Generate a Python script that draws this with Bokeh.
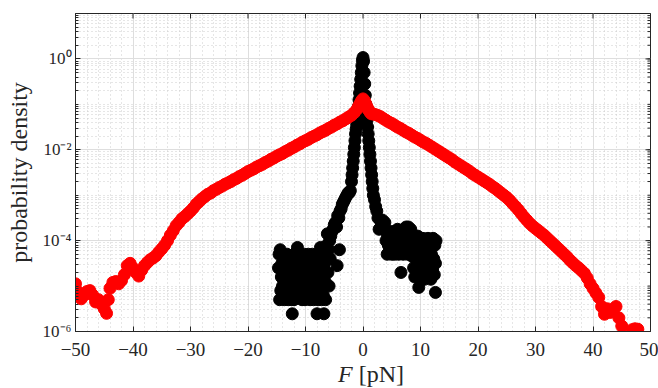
import math
from bokeh.plotting import figure
from bokeh.layouts import column
from bokeh.models import Range1d, FixedTicker, ColumnDataSource, Div
from bokeh.embed import file_html
from bokeh.resources import INLINE

# Narrow force distribution (black): force in pN and log10 of probability density
black_force = [
    -14.7, -14.6, -14.5, -14.4, -14.3, -14.2, -14.1, -14.0, -13.9, -13.8,
    -13.7, -13.6, -13.5, -13.4, -13.3, -13.2, -13.1, -13.0, -12.9, -12.8,
    -12.7, -12.6, -12.5, -12.4, -12.3, -12.2, -12.1, -12.0, -11.9, -11.8,
    -11.7, -11.6, -11.5, -11.4, -11.3, -11.2, -11.1, -11.0, -10.9, -10.8,
    -10.7, -10.6, -10.5, -10.4, -10.3, -10.2, -10.1, -10.0, -9.9, -9.8,
    -9.7, -9.6, -9.5, -9.4, -9.3, -9.2, -9.1, -9.0, -8.9, -8.8,
    -8.7, -8.6, -8.5, -8.4, -8.3, -8.2, -8.1, -8.0, -7.9, -7.8,
    -7.7, -7.6, -7.5, -7.4, -7.3, -7.2, -7.1, -7.0, -6.9, -6.8,
    -6.7, -6.6, -6.5, -6.4, -6.3, -6.2, -6.1, -6.0, -5.9, -5.8,
    -5.7, -5.6, -5.4, -5.2, -5.0, -4.8, -4.6, -4.5, -4.4, -4.2,
    -4.1, -4.0, -3.8, -3.6, -3.4, -3.2, -3.0, -2.8, -2.6, -2.4,
    -2.2, -2.0, -1.9, -1.8, -1.7, -1.6, -1.5, -1.4, -1.3, -1.2,
    -1.1, -1.0, -0.9, -0.8, -0.7, -0.6, -0.5, -0.4, -0.3, -0.2,
    -0.1, 0.0, 0.1, 0.2, 0.3, 0.4, 0.5, 0.6, 0.7, 0.8,
    0.9, 1.0, 1.1, 1.2, 1.3, 1.4, 1.5, 1.6, 1.7, 1.8,
    2.0, 2.2, 2.4, 2.6, 2.8, 3.0, 3.2, 3.4, 3.6, 3.8,
    4.0, 4.1, 4.2, 4.3, 4.4, 4.5, 4.6, 4.7, 4.8, 4.9,
    5.0, 5.1, 5.2, 5.3, 5.4, 5.5, 5.6, 5.7, 5.8, 5.9,
    6.0, 6.1, 6.2, 6.3, 6.4, 6.5, 6.6, 6.7, 6.8, 6.9,
    7.0, 7.1, 7.2, 7.3, 7.4, 7.5, 7.6, 7.7, 7.8, 7.9,
    8.0, 8.1, 8.2, 8.3, 8.4, 8.5, 8.6, 8.7, 8.8, 8.9,
    9.0, 9.1, 9.2, 9.3, 9.4, 9.5, 9.6, 9.7, 9.8, 9.9,
    10.0, 10.1, 10.2, 10.3, 10.4, 10.5, 10.6, 10.7, 10.8, 10.9,
    11.0, 11.1, 11.2, 11.3, 11.4, 11.5, 11.6, 11.7, 11.8, 11.9,
    12.0, 12.1, 12.2, 12.3, 12.4, 12.5, 12.6, 12.6, 12.7,
]
black_log10_pdf = [
    -4.6, -4.3, -5.3, -4.2, -5.1, -4.8, -4.5, -5.0, -4.3, -4.7,
    -5.3, -4.4, -4.9, -4.6, -5.1, -4.3, -4.8, -5.3, -4.5, -4.9,
    -4.4, -5.1, -4.7, -5.3, -5.61, -4.5, -4.9, -5.3, -4.4, -4.7,
    -5.0, -4.25, -4.6, -4.15, -4.9, -5.2, -4.4, -4.7, -5.0, -4.3,
    -4.6, -5.3, -4.4, -4.8, -5.0, -4.3, -5.3, -4.6, -4.9, -4.4,
    -5.1, -4.7, -4.3, -5.0, -4.6, -5.3, -4.4, -4.8, -5.1, -4.3,
    -4.7, -5.3, -4.5, -4.9, -4.4, -5.1, -4.6, -5.61, -4.8, -5.3,
    -4.4, -4.9, -4.3, -4.15, -5.0, -5.3, -4.6, -4.8, -5.2, -5.61,
    -4.5, -4.9, -5.3, -4.4, -4.1, -3.85, -4.7, -4.2, -5.0, -4.0,
    -4.4, -3.9, -3.8, -3.75, -3.65, -3.6, -3.7, -4.55, -3.45, -3.5,
    -4.2, -3.35, -3.3, -3.2, -3.15, -3.1, -3.05, -3.0, -2.95, -2.95,
    -2.9, -2.7, -2.55, -2.4, -2.25, -2.1, -1.95, -1.8, -1.65, -1.55,
    -1.45, -1.35, -1.2, -1.05, -0.9, -0.75, -0.6, -0.45, -0.3, -0.15,
    -0.03, 0.03, -0.05, -0.3, -0.55, -0.8, -1.0, -1.2, -1.35, -1.5,
    -1.65, -1.8, -1.95, -2.1, -2.25, -2.4, -2.55, -2.7, -2.85, -3.0,
    -3.1, -3.25, -3.35, -3.5, -3.75, -3.55, -3.6, -3.55, -3.75, -3.6,
    -4.0, -3.8, -4.3, -3.9, -4.1, -3.85, -4.25, -3.95, -4.15, -3.8,
    -4.3, -4.0, -3.85, -4.2, -3.95, -4.3, -3.8, -4.1, -3.9, -4.25,
    -3.75, -4.05, -4.3, -3.85, -4.15, -3.95, -4.7, -4.25, -3.8, -4.0,
    -4.3, -3.75, -4.1, -3.9, -4.25, -3.7, -4.0, -3.85, -4.3, -3.7,
    -4.1, -3.9, -4.25, -3.75, -4.05, -3.85, -4.35, -3.95, -4.6, -4.2,
    -4.8, -3.95, -4.4, -4.1, -4.7, -3.9, -4.5, -5.03, -4.25, -4.8,
    -4.0, -4.55, -4.3, -4.8, -3.95, -4.6, -4.2, -4.85, -4.0, -4.45,
    -4.75, -4.1, -4.5, -3.95, -4.8, -4.25, -4.6, -4.0, -4.85, -4.3,
    -4.0, -4.65, -3.95, -4.4, -4.75, -4.1, -5.14, -4.5, -4.0,
]

# Broad force distribution (red): force in pN and log10 of probability density
red_force = [
    -50.0, -49.8, -49.5, -49.0, -48.5, -48.0, -47.5, -47.0, -46.5, -46.0,
    -45.5, -45.0, -44.6, -44.3, -44.0, -43.5, -43.0, -42.5, -42.0, -41.5,
    -41.0, -40.5, -40.0, -39.5, -39.0, -38.5, -38.0, -37.5, -37.0, -36.5,
    -36.0, -35.5, -35.0, -34.5, -34.0, -33.5, -33.0, -32.5, -32.0, -31.5,
    -31.0, -30.5, -30.0, -29.5, -29.0, -28.5, -28.0, -27.5, -27.0, -26.5,
    -26.0, -25.5, -25.0, -24.5, -24.0, -23.5, -23.0, -22.5, -22.0, -21.5,
    -21.0, -20.5, -20.0, -19.5, -19.0, -18.5, -18.0, -17.5, -17.0, -16.5,
    -16.0, -15.5, -15.0, -14.5, -14.0, -13.5, -13.0, -12.5, -12.0, -11.5,
    -11.0, -10.5, -10.0, -9.5, -9.0, -8.5, -8.0, -7.5, -7.0, -6.5,
    -6.0, -5.5, -5.0, -4.5, -4.0, -3.5, -3.0, -2.5, -2.0, -1.5,
    -1.0, -0.75, -0.5, -0.25, 0.0, 0.25, 0.5, 0.75, 1.0, 1.25,
    1.5, 2.0, 2.5, 3.0, 3.5, 4.0, 4.5, 5.0, 5.5, 6.0,
    6.5, 7.0, 7.5, 8.0, 8.5, 9.0, 9.5, 10.0, 10.5, 11.0,
    11.5, 12.0, 12.5, 13.0, 13.5, 14.0, 14.5, 15.0, 15.5, 16.0,
    16.5, 17.0, 17.5, 18.0, 18.5, 19.0, 19.5, 20.0, 20.5, 21.0,
    21.5, 22.0, 22.5, 23.0, 23.5, 24.0, 24.5, 25.0, 25.5, 26.0,
    26.5, 27.0, 27.5, 28.0, 28.5, 29.0, 29.5, 30.0, 30.5, 31.0,
    31.5, 32.0, 32.5, 33.0, 33.5, 34.0, 34.5, 35.0, 35.5, 36.0,
    36.5, 37.0, 37.5, 38.0, 38.5, 39.0, 39.5, 40.0, 40.5, 41.0,
    41.5, 42.0, 42.5, 43.0, 43.5, 44.0, 44.5, 45.0, 46.8, 47.3,
    47.8,
]
red_log10_pdf = [
    -4.95, -5.1, -5.2, -5.28, -5.2, -5.12, -5.1, -5.2, -5.35, -5.3,
    -5.4, -5.5, -5.6, -5.3, -5.05, -4.92, -4.9, -4.95, -4.88, -4.75,
    -4.55, -4.5, -4.6, -4.7, -4.78, -4.65, -4.55, -4.48, -4.42, -4.38,
    -4.33, -4.25, -4.18, -4.1, -4.0, -3.88, -3.78, -3.67, -3.6, -3.52,
    -3.47, -3.41, -3.35, -3.28, -3.2, -3.14, -3.08, -3.03, -2.98, -2.95,
    -2.9, -2.87, -2.83, -2.8, -2.76, -2.73, -2.7, -2.66, -2.63, -2.59,
    -2.56, -2.52, -2.48, -2.45, -2.42, -2.38, -2.35, -2.32, -2.28, -2.25,
    -2.21, -2.18, -2.14, -2.11, -2.08, -2.04, -2.01, -1.97, -1.94, -1.9,
    -1.87, -1.83, -1.8, -1.77, -1.73, -1.7, -1.67, -1.63, -1.6, -1.57,
    -1.53, -1.5, -1.46, -1.43, -1.39, -1.36, -1.32, -1.28, -1.24, -1.18,
    -1.1, -1.04, -0.98, -0.92, -0.88, -0.92, -0.99, -1.07, -1.13, -1.18,
    -1.21, -1.22, -1.24, -1.27, -1.31, -1.35, -1.39, -1.42, -1.46, -1.5,
    -1.53, -1.57, -1.61, -1.64, -1.68, -1.72, -1.75, -1.79, -1.83, -1.86,
    -1.9, -1.94, -1.98, -2.02, -2.06, -2.1, -2.14, -2.18, -2.22, -2.27,
    -2.31, -2.35, -2.39, -2.43, -2.47, -2.52, -2.56, -2.6, -2.64, -2.68,
    -2.72, -2.76, -2.81, -2.85, -2.9, -2.95, -3.0, -3.05, -3.11, -3.18,
    -3.25, -3.32, -3.4, -3.48, -3.55, -3.62, -3.68, -3.73, -3.78, -3.83,
    -3.88, -3.94, -4.0, -4.06, -4.12, -4.18, -4.24, -4.3, -4.36, -4.43,
    -4.49, -4.55, -4.6, -4.66, -4.72, -4.82, -4.95, -5.05, -5.15, -5.25,
    -5.45, -5.62, -5.5, -5.58, -5.52, -5.45, -5.7, -5.88, -5.96, -5.94,
    -5.95,
]

x_ticks = [-50, -40, -30, -20, -10, 0, 10, 20, 30, 40, 50]
x_minor = [v for v in range(-50, 51, 2) if v % 10 != 0]
y_ticks = [1e-6, 1e-4, 1e-2, 1e0]
y_tick_labels = ["10\u207b\u2076", "10\u207b\u2074", "10\u207b\u00b2", "10\u2070"]
y_minor = [m * 10.0 ** k for k in range(-6, 1) for m in range(1, 10)] + [10.0]
x_lo, x_hi = -50, 50
y_lo, y_hi = 1e-6, 10

AX = "#262626"
FONT = "Liberation Serif"

p = figure(
    width=658, height=372,
    y_axis_type="log",
    x_range=Range1d(x_lo, x_hi), y_range=Range1d(y_lo, y_hi),
    output_backend="svg", toolbar_location=None,
    min_border_left=75, min_border_right=8,
    min_border_top=13, min_border_bottom=41,
    margin=0,
)
p.outline_line_color = AX
p.background_fill_color = "white"

# tickers and grids (solid major grid, dotted minor grid)
xt = FixedTicker(ticks=x_ticks, minor_ticks=x_minor)
yt = FixedTicker(ticks=y_ticks, minor_ticks=y_minor)
p.xaxis.ticker = xt
p.yaxis.ticker = yt
p.xgrid.ticker = xt
p.ygrid.ticker = yt
for g in (p.xgrid, p.ygrid):
    g.grid_line_color = "#dedede"
    g.grid_line_width = 1
    g.minor_grid_line_color = "#cccccc"
    g.minor_grid_line_dash = "1 3"
    g.minor_grid_line_width = 1

for ax in (p.xaxis, p.yaxis):
    ax.axis_line_color = AX
    ax.major_tick_line_color = AX
    ax.minor_tick_line_color = AX
    ax.major_tick_in = 5
    ax.major_tick_out = 0
    ax.minor_tick_in = 3
    ax.minor_tick_out = 0
    ax.major_label_text_font = FONT
    ax.major_label_text_color = AX
p.xaxis.minor_tick_line_color = None
p.xaxis.major_label_text_font_size = "19px"
p.xaxis.major_label_standoff = 11
p.yaxis.major_label_text_font_size = "17px"
p.yaxis.major_label_standoff = 4
p.yaxis.major_label_overrides = dict(zip(y_ticks, y_tick_labels))
p.yaxis.axis_label = "probability density"
p.yaxis.axis_label_text_font = FONT
p.yaxis.axis_label_text_font_style = "normal"
p.yaxis.axis_label_text_font_size = "24px"
p.yaxis.axis_label_text_color = AX
p.yaxis.axis_label_standoff = 8

black = ColumnDataSource(dict(f=black_force, pdf=[10.0 ** v for v in black_log10_pdf]))
red = ColumnDataSource(dict(f=red_force, pdf=[10.0 ** v for v in red_log10_pdf]))
p.scatter("f", "pdf", source=black, marker="circle", size=12, fill_color="black", line_color="black")
p.scatter("f", "pdf", source=red, marker="circle", size=12, fill_color="red", line_color="red")

# mirrored tick marks along the top and right edges (half of each dash is clipped by the frame)
p.scatter(x_ticks, [y_hi] * len(x_ticks), marker="dash", angle=math.pi / 2, size=10,
          line_color=AX, line_width=1)
p.scatter([x_hi] * len(y_ticks), y_ticks, marker="dash", size=10, line_color=AX, line_width=1)
p.scatter([x_hi] * len(y_minor), y_minor, marker="dash", size=6, line_color=AX, line_width=1)

# x-axis title with an italic symbol, set as HTML under the plot
xlabel = Div(
    text="<i>F</i> [pN]", width=658, height=16, margin=0,
    styles={"font-family": FONT, "font-size": "24px", "line-height": "24px",
            "color": AX, "padding-left": "338px", "position": "relative",
            "top": "-10px", "overflow": "visible", "white-space": "nowrap"},
)

layout = column(p, xlabel, spacing=0, margin=0)
open("out.html", "w").write(file_html(layout, INLINE))
